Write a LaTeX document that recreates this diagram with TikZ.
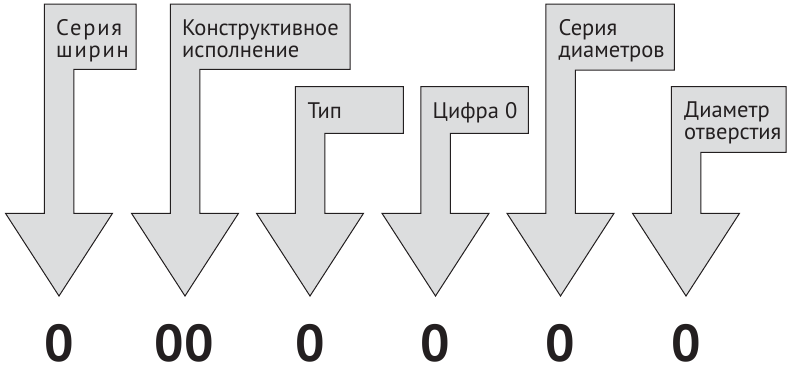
\documentclass[tikz,border=0pt]{standalone}
\usepackage{fontspec}
\setmainfont{PT Sans}
\definecolor{arrfill}{HTML}{DCDDDE}
\definecolor{ink}{HTML}{231F20}
\newcommand\codearrow[4]{%
  % #1 centre x, #2 box top, #3 box bottom, #4 box right
  \draw[arr] ({#1-14.75},#2) -- (#4,#2) -- (#4,#3) -- ({#1+14.75},#3)
    -- ({#1+14.75},213.3) -- ({#1+53.5},213.3) -- (#1,296)
    -- ({#1-53.5},213.3) -- ({#1-14.75},213.3) -- cycle;}
\begin{document}
\begin{tikzpicture}[x=1pt,y=-1pt,
  arr/.style={draw=ink,fill=arrfill,line width=1pt,line join=miter},
  lbl/.style={anchor=base west,inner sep=0pt,align=left,text=ink,
    font=\fontsize{22.5}{22}\selectfont},
  digit/.style={inner sep=0pt,text=ink,font=\fontsize{52}{52}\selectfont\bfseries}]
\useasboundingbox (0,0) rectangle (787,368);
\codearrow{59}{4}{69.3}{136}
\codearrow{185}{4}{69.3}{350}
\codearrow{310}{86.7}{133.3}{403.3}
\codearrow{435.5}{86.7}{133.3}{528.3}
\codearrow{560.5}{4}{70}{674.3}
\codearrow{686}{86.7}{152.3}{786}
\node[lbl,font=\fontsize{22.5}{22}\selectfont\addfontfeatures{LetterSpace=8}] (l1) at (56,57.3) {Серия\\ширин};
\node[lbl] (l2) at (182,57.3) {Конструктивное\\исполнение};
\node[lbl] (l3) at (307.3,118) {Тип};
\node[lbl] (l4) at (432.5,118) {Цифра 0};
\node[lbl] (l5) at (558.5,57.3) {Серия\\диаметров};
\node[lbl] (l6) at (684,139.7) {Диаметр\\отверстия};
\node[digit,anchor=base] (d1) at (59,361.5) {0};
\node[digit,anchor=base] (d2) at (184,361.5) {00};
\node[digit,anchor=base] (d3) at (310,361.5) {0};
\node[digit,anchor=base] (d4) at (435.5,361.5) {0};
\node[digit,anchor=base] (d5) at (560.5,361.5) {0};
\node[digit,anchor=base] (d6) at (686,361.5) {0};
\end{tikzpicture}
\end{document}
